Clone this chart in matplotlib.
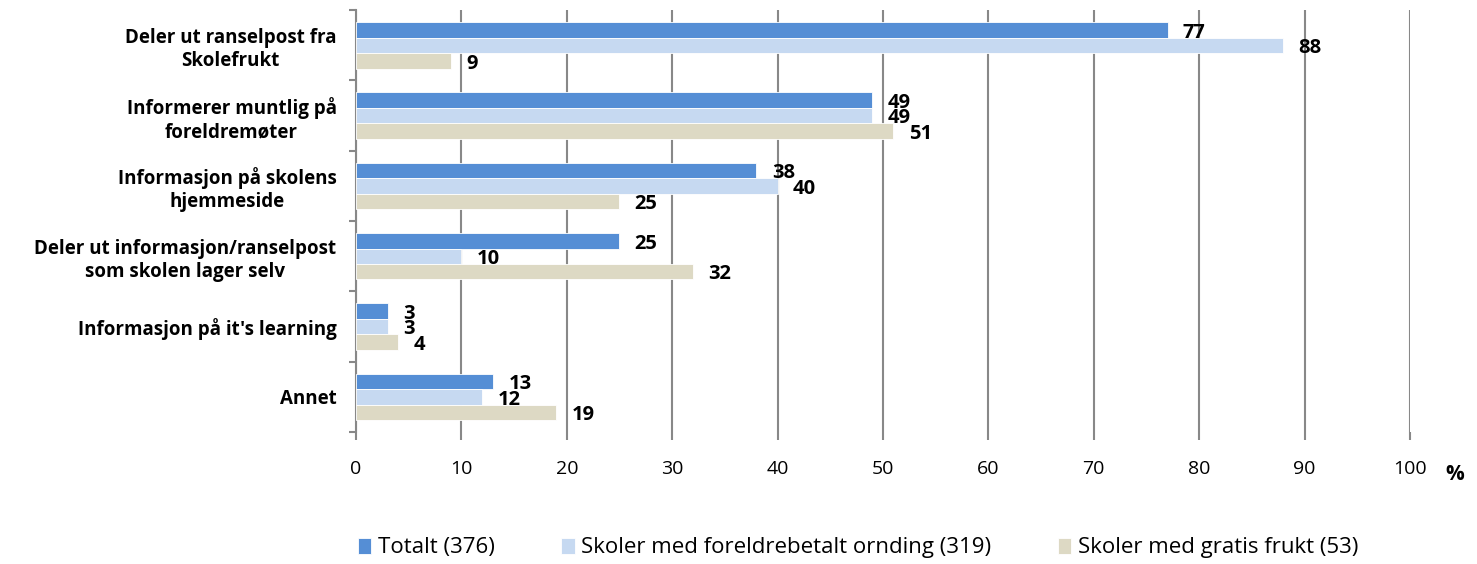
import matplotlib.pyplot as plt
import numpy as np

categories = [
    "Deler ut ranselpost fra\nSkolefrukt",
    "Informerer muntlig på\nforeldremøter",
    "Informasjon på skolens\nhjemmeside",
    "Deler ut informasjon/ranselpost\nsom skolen lager selv",
    "Informasjon på it's learning",
    "Annet",
]
series_names = [
    "Totalt (376)",
    "Skoler med foreldrebetalt ornding (319)",
    "Skoler med gratis frukt (53)",
]
totalt = [77, 49, 38, 25, 3, 13]
foreldrebetalt = [88, 49, 40, 10, 3, 12]
gratis = [9, 51, 25, 32, 4, 19]
colors = ["#558ED5", "#C6D9F1", "#DDD9C4"]

plt.rcParams["font.family"] = ["Open Sans", "DejaVu Sans"]

fig = plt.figure(figsize=(14.77, 5.64), dpi=100)
ax = fig.add_axes([0.241, 0.234, 0.7136, 0.748])

y = np.arange(len(categories))
h = 0.22
for i, (vals, col, name) in enumerate(zip([totalt, foreldrebetalt, gratis], colors, series_names)):
    pos = y + (i - 1) * h
    ax.barh(pos, vals, height=h, color=col, label=name, zorder=3,
            edgecolor="white", linewidth=0.6)
    for p, v in zip(pos, vals):
        ax.annotate(str(v), (v, p), xytext=(11, -2), textcoords="offset points",
                    ha="left", va="center", fontsize=14.5, fontweight="bold", zorder=4)

ax.set_xlim(0, 100)
ax.set_ylim(len(categories) - 0.5, -0.5)
ax.set_xticks(np.arange(0, 101, 10))
ax.tick_params(axis="x", labelsize=14, length=6, color="#888888", width=1.5, pad=14)
ax.set_yticks(y)
ax.set_yticklabels(categories, fontsize=13.5, fontweight="bold")
ax.tick_params(axis="y", length=0, pad=14)
ax.set_yticks(np.arange(-0.5, len(categories)), minor=True)
ax.tick_params(axis="y", which="minor", length=5, color="#888888", width=1.5)
for lab in ax.get_yticklabels():
    lab.set_horizontalalignment("right")
    lab.set_multialignment("center")

ax.grid(axis="x", color="#888888", linewidth=1.5, zorder=0)
for s in ["top", "right", "bottom"]:
    ax.spines[s].set_visible(False)
ax.spines["left"].set_color("#888888")
ax.spines["left"].set_linewidth(1.5)

fig.text(1455 / 1477, 1 - 474 / 564, "%", fontsize=15, fontweight="bold",
         ha="center", va="center")

fig.legend(loc="center", bbox_to_anchor=(0.581, 1 - 548 / 564), ncol=3, frameon=False,
           fontsize=16, handlelength=0.6, handleheight=0.7, handletextpad=0.3,
           columnspacing=3.0)

fig.savefig("out.png", dpi=100)
